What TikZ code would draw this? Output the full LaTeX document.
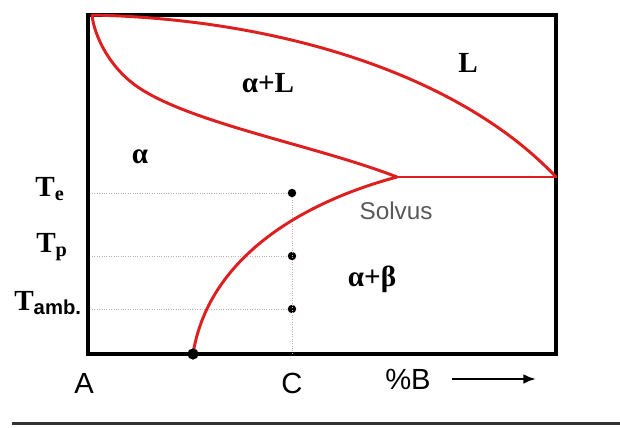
\documentclass[tikz,border=0pt]{standalone}
\usepackage{fontspec}
\setmainfont{Liberation Serif}
\setsansfont{Liberation Sans}
\definecolor{PhaseRed}{HTML}{DD1F1F}
\definecolor{GuideGray}{HTML}{C9A9B4}
\usepackage{tikz}
\usetikzlibrary{arrows.meta, positioning}

\begin{document}
\begin{tikzpicture}[
    phaseline/.style={PhaseRed, line width=2.1pt, line cap=round},
    guide/.style={GuideGray, densely dotted, line width=0.7pt},
    tempdot/.style={circle, fill=black, inner sep=0pt, minimum size=6pt},
    templabel/.style={font=\huge\bfseries},
    axislabel/.style={font=\sffamily\huge}
  ]
  \useasboundingbox (0,0) rectangle (15.5,10.675);
  \draw[line width=2.6pt] (2.2,1.825) rectangle (13.9,10.3);

  \coordinate (meltA) at (2.3,10.3);
  \coordinate (eut) at (9.925,6.25);
  \coordinate (meltB) at (13.9,6.25);
  \coordinate (foot) at (4.825,1.825);

  \node[tempdot] (te) at (7.3,5.85) {};
  \node[tempdot] (tp) at (7.3,4.275) {};
  \node[tempdot] (tamb) at (7.3,2.95) {};
  \coordinate (cbase) at (7.3,1.85);

  \draw[guide] (2.3,5.85) -- (te);
  \draw[guide] (2.3,4.275) -- (tp);
  \draw[guide] (2.3,2.95) -- (tamb);
  \draw[guide] (te) -- (cbase);

  \draw[phaseline] (meltA) .. controls (7,10.2) and (11.5,8.8) .. (meltB);
  \draw[phaseline] (meltA) .. controls (2.35,9.8) and (2.75,8.9) .. (3.6,8.4)
    .. controls (5.0,7.55) and (8,7.0) .. (eut);
  \draw[phaseline] (eut) -- (meltB);
  \draw[phaseline] (eut) .. controls (7.5,5.6) and (5.2,4.2) .. (foot);
  \node[circle, fill=black, inner sep=0pt, minimum size=8pt] (footdot) at (foot) {};

  \node[templabel] at (1.25,5.95) {T\textsubscript{e}};
  \node[templabel] at (1.3,4.5) {T\textsubscript{p}};
  \node[templabel] at (1.2,3.1) {T\textsubscript{\sffamily amb.}};

  \node[templabel] at (3.5,6.75) {α};
  \node[templabel] at (6.7,8.6) {α+L};
  \node[templabel] at (11.7,9.1) {L};
  \node[font=\sffamily\LARGE, gray!70!black] at (9.9,5.4) {Solvus};
  \node[templabel] at (9.3,3.7) {α+β};

  \node[axislabel] (labA) at (2.1,1.1) {A};
  \node[axislabel] (labC) at (7.3,1.1) {C};
  \node[axislabel] (labB) at (10.2,1.2) {\%B};
  \draw[line width=2pt, -{Latex[length=9pt,width=7pt]}] (11.3,1.2) -- (13.4,1.2);

  \draw[line width=2pt, black!80] (0.3,0.08) -- (15.5,0.08);
\end{tikzpicture}
\end{document}
